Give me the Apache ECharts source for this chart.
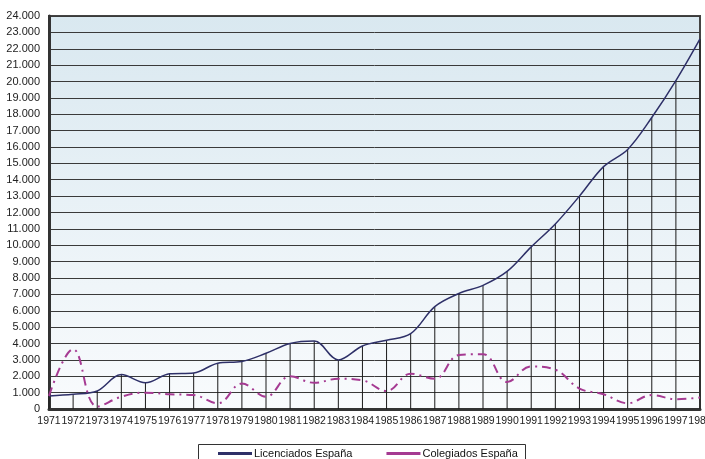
<!DOCTYPE html>
<html>
<head>
<meta charset="utf-8">
<script src="https://cdn.jsdelivr.net/npm/echarts@6/dist/echarts.min.js"></script>
<style>
  html, body { margin: 0; padding: 0; background: #fff; }
  #main { width: 705px; height: 459px; }
</style>
</head>
<body>
<div id="main"></div>
<script>
// años (categorías) y etiquetas tal como aparecen en el gráfico
var years = ['1971','1972','1973','1974','1975','1976','1977','1978','1979','1980',
  '1981','1982','1983','1984','1985','1986','1987','1988','1989','1990',
  '1991','1992','1993','1994','1995','1996','1997','1998'];
var yearLabels = ['1971','1972','1973','1974','1975','1976','1977','1978','1979','1980',
  '1981','1982','1983','1984','1985','1986','1987','1988','1989','1990',
  '1991','1992','1993','1994','1995','1996','1997','1987'];

var licenciados = [800, 900, 1100, 2100, 1600, 2150, 2200, 2800, 2900, 3400,
  4000, 4150, 3000, 3850, 4200, 4600, 6250, 7050, 7550, 8400,
  9900, 11300, 13000, 14800, 15850, 17800, 20050, 22600];
var colegiados = [800, 3650, 150, 750, 1000, 900, 850, 350, 1550, 750,
  2000, 1600, 1850, 1750, 1100, 2150, 1850, 3300, 3350, 1650,
  2600, 2400, 1250, 900, 350, 850, 600, 700];

var chart = echarts.init(document.getElementById('main'));

chart.setOption({
  animation: false,
  textStyle: { fontFamily: '"Liberation Sans", Arial, sans-serif' },
  grid: {
    left: 49, right: 5, top: 16, bottom: 50,
    outerBoundsMode: 'none',
    containLabel: false,
    show: true,
    borderColor: '#444',
    borderWidth: 2,
    backgroundColor: new echarts.graphic.LinearGradient(0, 0, 0, 1, [
      { offset: 0, color: '#d9e8f0' },
      { offset: 1, color: '#f9fbfd' }
    ])
  },
  legend: {
    left: 213, top: 443,
    itemWidth: 34, itemHeight: 3,
    itemGap: 34,
    icon: 'rect',
    textStyle: { fontSize: 11, color: '#111', padding: [0, 0, 0, -3] },
    data: ['Licenciados España', 'Colegiados España']
  },
  graphic: [{
    type: 'rect',
    shape: { x: 198.5, y: 444.5, width: 327, height: 30 },
    style: { fill: 'none', stroke: '#333', lineWidth: 1 },
    silent: true
  }],
  xAxis: {
    type: 'category',
    data: years,
    boundaryGap: false,
    axisLine: { lineStyle: { color: '#333', width: 3 } },
    axisTick: { show: false },
    axisLabel: {
      interval: 0, fontSize: 10.5, color: '#222', margin: 7,
      hideOverlap: false,
      formatter: function (v, i) { return yearLabels[i]; }
    },
    splitLine: { show: false }
  },
  yAxis: {
    type: 'value',
    min: 0, max: 24000, interval: 1000,
    axisLine: { show: true, lineStyle: { color: '#333', width: 3 } },
    axisTick: { show: false },
    axisLabel: {
      fontSize: 11, color: '#222', margin: 9,
      formatter: function (v) {
        return v === 0 ? '0' : String(v).replace(/\B(?=(\d{3})+(?!\d))/g, '.');
      }
    },
    splitLine: { show: true, lineStyle: { color: '#3a3a3a', width: 1 } }
  },
  series: [
    {
      name: 'caidas',
      type: 'bar',
      data: licenciados,
      barWidth: 1,
      itemStyle: { color: '#1a1a1a' },
      silent: true,
      z: 1
    },
    {
      name: 'Licenciados España',
      type: 'line',
      data: licenciados,
      smooth: 0.35,
      symbol: 'none',
      color: '#2e3068',
      lineStyle: { color: '#2e3068', width: 1.5 },
      z: 3
    },
    {
      name: 'Colegiados España',
      type: 'line',
      data: colegiados,
      smooth: 0.4,
      symbol: 'none',
      color: '#a53a92',
      lineStyle: { color: '#a53a92', width: 2, type: [9, 5, 2, 5] },
      z: 3
    }
  ]
});
</script>
</body>
</html>
